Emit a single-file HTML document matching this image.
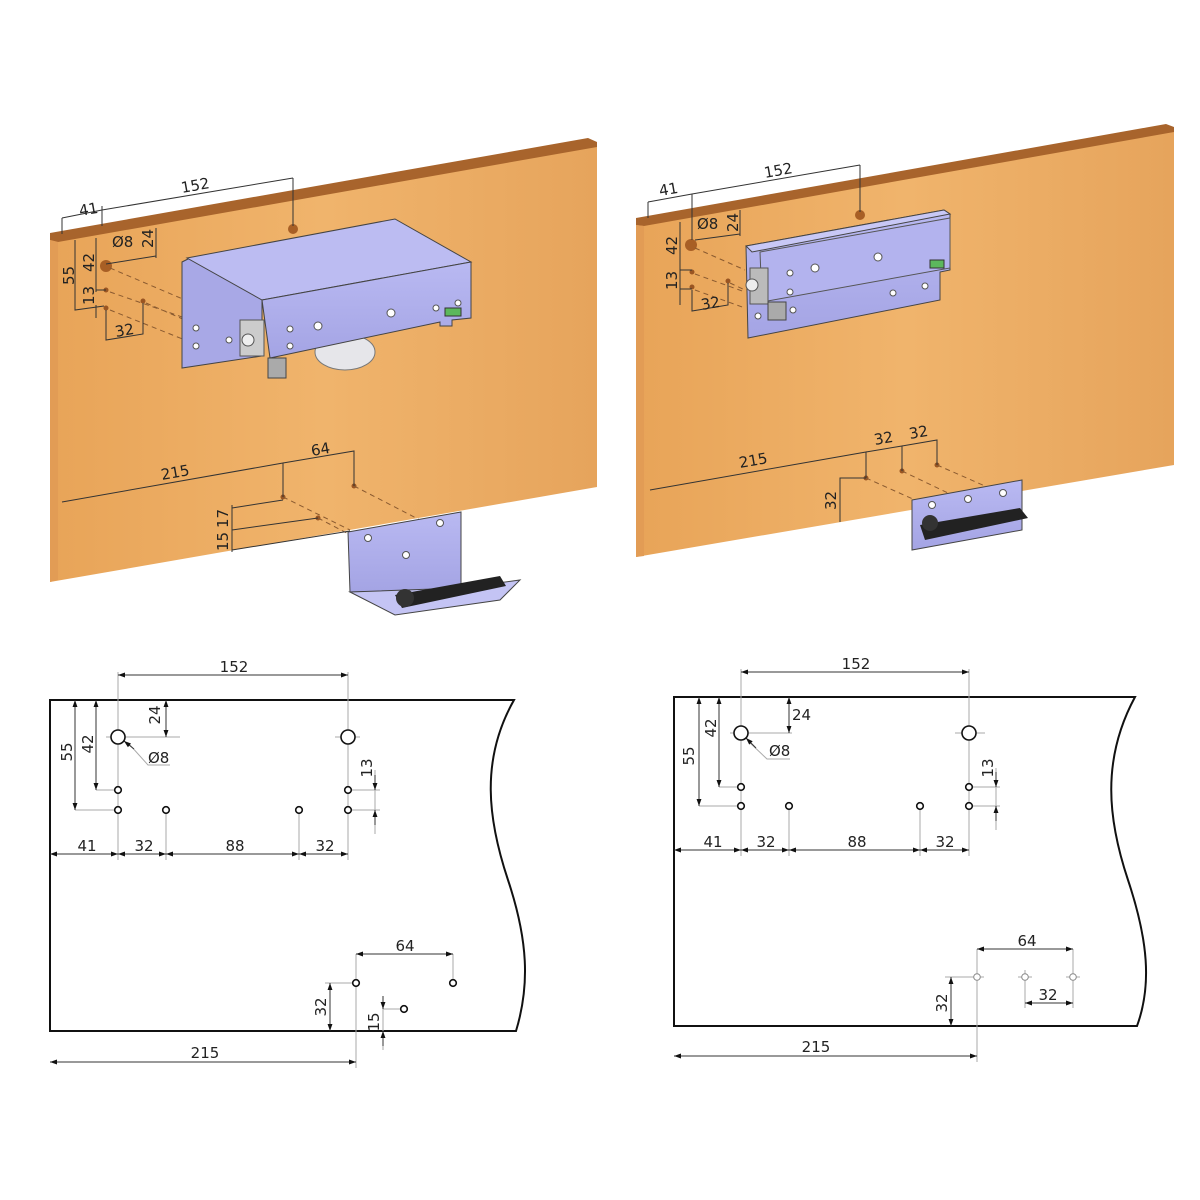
<!DOCTYPE html>
<html><head><meta charset="utf-8"><style>
html,body{margin:0;padding:0;background:#fff}
svg{display:block}
text{font-family:"DejaVu Sans","Liberation Sans",sans-serif;font-size:15px;fill:#222}
.d{stroke:#333;stroke-width:1;fill:none}
.g{stroke:#aaa;stroke-width:1;fill:none}
.dash{stroke:#8a5a30;stroke-width:1;stroke-dasharray:5,4;fill:none}
.hole{fill:#fff;stroke:#111;stroke-width:1.6}
.ol{stroke:#111;stroke-width:2;fill:none}
</style></head><body>
<svg width="1200" height="1200" viewBox="0 0 1200 1200" xmlns="http://www.w3.org/2000/svg">
<defs>
<marker id="a" viewBox="0 0 10 10" refX="10" refY="5" markerWidth="12" markerHeight="7" orient="auto-start-reverse" markerUnits="userSpaceOnUse"><path d="M0,1.5 L10,5 L0,8.5z" fill="#111"/></marker>
<linearGradient id="w" x1="0" y1="0" x2="1" y2="0">
<stop offset="0" stop-color="#e8a458"/><stop offset="0.5" stop-color="#f0b46c"/><stop offset="1" stop-color="#e6a45c"/></linearGradient>
<linearGradient id="m" x1="0" y1="0" x2="0" y2="1"><stop offset="0" stop-color="#b9b9f2"/><stop offset="1" stop-color="#a4a4e4"/></linearGradient>
</defs>

<!-- LEFT BOARD -->
<polygon points="50,236 590,141 597,144 597,487 50,582" fill="url(#w)"/>
<polygon points="50,233 588,138 597,142 597,147 58,242 50,240" fill="#a8642c"/>
<polygon points="50,240 58,242 58,580 50,582" fill="#e29c55"/>
<circle cx="293" cy="229" r="5" fill="#a85f25"/>
<circle cx="106" cy="266" r="6" fill="#a85f25"/>
<circle cx="106" cy="290" r="2.5" fill="#9a5522"/><circle cx="106" cy="308" r="2.5" fill="#9a5522"/><circle cx="143" cy="301" r="2.5" fill="#9a5522"/>
<circle cx="283" cy="497" r="2.5" fill="#9a5522"/><circle cx="354" cy="486" r="2.5" fill="#9a5522"/><circle cx="318" cy="518" r="2.5" fill="#9a5522"/>
<g class="dash"><path d="M110 268 L185 300 M110 292 L185 318 M110 310 L185 340 M146 303 L185 320"/><path d="M283 497 L350 530 M354 486 L420 520 M318 518 L360 540"/></g>
<g class="d">
<path d="M62 234 L62 218 M102 226 L102 206 M62 218 L102 210 M102 210 L293 178 M293 178 L293 226"/>
<path d="M106 264 L156 256 M156 228 L156 258 M75 240 L75 310 L104 306 M96 238 L96 292 M96 290 L106 290 M96 305 L96 318"/>
<path d="M106 310 L106 340 L143 334 L143 303"/>
<path d="M62 502 L283 463 L283 497 M283 463 L354 451 L354 486"/>
<path d="M232 552 L232 505 M232 508 L283 500 M232 530 L318 518 M232 550 L350 531"/>
</g>
<text x="80" y="216" transform="rotate(-10 80 216)">41</text>
<text x="182" y="193" transform="rotate(-10 182 193)">152</text>
<text x="112" y="247">Ø8</text>
<text x="153" y="248" transform="rotate(-90 153 248)">24</text>
<text x="74" y="285" transform="rotate(-90 74 285)">55</text>
<text x="94" y="272" transform="rotate(-90 94 272)">42</text>
<text x="94" y="305" transform="rotate(-90 94 305)">13</text>
<text x="116" y="337" transform="rotate(-10 116 337)">32</text>
<text x="162" y="480" transform="rotate(-10 162 480)">215</text>
<text x="312" y="456" transform="rotate(-10 312 456)">64</text>
<text x="228" y="528" transform="rotate(-90 228 528)">17</text>
<text x="228" y="551" transform="rotate(-90 228 551)">15</text>

<!-- left top hardware -->
<ellipse cx="345" cy="352" rx="30" ry="18" fill="#e6e6ea" stroke="#777"/>
<polygon points="182,262 190,258 250,290 262,300 262,356 182,368" fill="#a8a8e6" stroke="#444"/>
<polygon points="187,258 395,219 471,262 262,300" fill="#bcbcf2" stroke="#444"/>
<polygon points="262,300 471,262 471,318 452,320 452,326 440,326 440,322 270,358" fill="url(#m)" stroke="#444"/>
<rect x="240" y="320" width="24" height="36" fill="#ccc" stroke="#555"/>
<circle cx="248" cy="340" r="6" fill="#eee" stroke="#555"/>
<rect x="268" y="358" width="18" height="20" fill="#aaa" stroke="#444"/>
<rect x="445" y="308" width="16" height="8" fill="#5cb85c" stroke="#333"/>
<g fill="#fff" stroke="#555"><circle cx="318" cy="326" r="4"/><circle cx="290" cy="329" r="3"/><circle cx="290" cy="346" r="3"/><circle cx="391" cy="313" r="4"/><circle cx="196" cy="328" r="3"/><circle cx="196" cy="346" r="3"/><circle cx="229" cy="340" r="3"/><circle cx="436" cy="308" r="3"/><circle cx="458" cy="303" r="3"/></g>

<!-- left bottom hardware -->
<polygon points="348,532 461,512 461,590 350,592" fill="url(#m)" stroke="#444"/>
<polygon points="350,592 461,588 520,580 500,600 395,615" fill="#c4c4f4" stroke="#444"/>
<path d="M395 595 L500 576 L506 586 L402 608 Z" fill="#222"/>
<circle cx="405" cy="598" r="9" fill="#333"/>
<g fill="#fff" stroke="#555"><circle cx="368" cy="538" r="3.5"/><circle cx="440" cy="523" r="3.5"/><circle cx="406" cy="555" r="3.5"/></g>

<!-- RIGHT BOARD -->
<polygon points="636,224 1166,128 1174,130 1174,465 636,557" fill="url(#w)"/>
<polygon points="636,218 1166,124 1174,127 1174,132 644,226 636,225" fill="#a8642c"/>
<polygon points="636,225 644,226 644,556 636,557" fill="#e29c55"/>
<circle cx="860" cy="215" r="5" fill="#a85f25"/>
<circle cx="691" cy="245" r="6" fill="#a85f25"/>
<circle cx="692" cy="272" r="2.5" fill="#9a5522"/><circle cx="692" cy="287" r="2.5" fill="#9a5522"/><circle cx="728" cy="281" r="2.5" fill="#9a5522"/>
<circle cx="866" cy="478" r="2.5" fill="#9a5522"/><circle cx="902" cy="471" r="2.5" fill="#9a5522"/><circle cx="937" cy="465" r="2.5" fill="#9a5522"/>
<g class="dash"><path d="M695 248 L745 270 M695 274 L745 292 M695 290 L745 308 M730 283 L745 290 M866 478 L915 500 M902 471 L950 494 M937 465 L985 486"/></g>
<g class="d">
<path d="M648 218 L648 202 M692 210 L692 194 M648 202 L692 194 M692 194 L860 165 M860 165 L860 212 M692 210 L692 240"/>
<path d="M695 240 L740 234 M740 210 L740 236 M680 222 L680 305 M680 270 L692 270 M680 289 L692 289 M692 290 L692 311 L728 305 L728 283"/>
<path d="M650 490 L866 452 L866 478 M866 452 L902 446 L902 471 M902 446 L937 440 L937 465 M840 522 L840 478 L866 478"/>
</g>
<text x="660" y="196" transform="rotate(-10 660 196)">41</text>
<text x="765" y="178" transform="rotate(-10 765 178)">152</text>
<text x="697" y="229">Ø8</text>
<text x="738" y="232" transform="rotate(-90 738 232)">24</text>
<text x="677" y="255" transform="rotate(-90 677 255)">42</text>
<text x="677" y="290" transform="rotate(-90 677 290)">13</text>
<text x="702" y="310" transform="rotate(-10 702 310)">32</text>
<text x="740" y="468" transform="rotate(-10 740 468)">215</text>
<text x="875" y="445" transform="rotate(-10 875 445)">32</text>
<text x="910" y="439" transform="rotate(-10 910 439)">32</text>
<text x="836" y="510" transform="rotate(-90 836 510)">32</text>

<!-- right top hardware -->
<ellipse cx="835" cy="297" rx="28" ry="14" fill="#e6e6ea" stroke="#777"/>
<polygon points="746,246 944,210 950,214 950,270 940,272 940,300 748,338" fill="url(#m)" stroke="#444"/>
<polygon points="746,246 944,210 950,214 752,252" fill="#c8c8f6" stroke="#444"/>
<polygon points="760,252 950,218 950,268 762,302" fill="#b3b3ee" stroke="#555"/>
<rect x="750" y="268" width="18" height="36" fill="#bbb" stroke="#555"/>
<circle cx="752" cy="285" r="6" fill="#eee" stroke="#555"/>
<rect x="768" y="302" width="18" height="18" fill="#aaa" stroke="#444"/>
<rect x="930" y="260" width="14" height="8" fill="#5cb85c" stroke="#333"/>
<g fill="#fff" stroke="#555"><circle cx="815" cy="268" r="4"/><circle cx="878" cy="257" r="4"/><circle cx="790" cy="273" r="3"/><circle cx="790" cy="292" r="3"/><circle cx="893" cy="293" r="3"/><circle cx="925" cy="286" r="3"/><circle cx="758" cy="316" r="3"/><circle cx="793" cy="310" r="3"/></g>
<!-- right bottom hardware -->
<polygon points="912,500 1022,480 1022,530 912,550" fill="url(#m)" stroke="#444"/>
<path d="M920 525 L1020 508 L1028 518 L925 540 Z" fill="#222"/>
<circle cx="930" cy="523" r="8" fill="#333"/>
<g fill="#fff" stroke="#555"><circle cx="932" cy="505" r="3.5"/><circle cx="968" cy="499" r="3.5"/><circle cx="1003" cy="493" r="3.5"/></g>

<!-- BOTTOM LEFT DRAWING -->
<path class="ol" d="M50 1031 L50 700 L514 700 C480 760 488 820 508 880 C528 940 530 985 516 1031 Z"/>
<g class="g">
<path d="M118 672 L118 860 M348 672 L348 860 M166 810 L166 860 M299 810 L299 860"/>
<path d="M106 737 L180 737 M335 737 L360 737 M348 728 L348 746"/>
<path d="M75 810 L118 810 M96 790 L118 790 M348 790 L380 790 M348 810 L380 810 M375 770 L375 834"/>
<path d="M356 954 L356 1068 M453 954 L453 983 M325 983 L356 983 M383 1009 L404 1009 M383 996 L383 1050 M130 745 L148 765 L170 765"/>
</g>
<g class="d" marker-start="url(#a)" marker-end="url(#a)">
<line x1="118" y1="675" x2="348" y2="675"/>
<line x1="50" y1="854" x2="118" y2="854"/><line x1="118" y1="854" x2="166" y2="854"/><line x1="166" y1="854" x2="299" y2="854"/><line x1="299" y1="854" x2="348" y2="854"/>
<line x1="166" y1="700" x2="166" y2="737"/><line x1="96" y1="700" x2="96" y2="790"/><line x1="75" y1="700" x2="75" y2="810"/>
<line x1="356" y1="954" x2="453" y2="954"/><line x1="330" y1="983" x2="330" y2="1031"/>
<line x1="50" y1="1062" x2="356" y2="1062"/>
</g>
<g class="d"><line x1="375" y1="775" x2="375" y2="790" marker-end="url(#a)"/><line x1="375" y1="825" x2="375" y2="810" marker-end="url(#a)"/>
<line x1="383" y1="996" x2="383" y2="1009" marker-end="url(#a)"/><line x1="383" y1="1046" x2="383" y2="1031" marker-end="url(#a)"/>
<line x1="134" y1="749" x2="124" y2="741" marker-end="url(#a)"/></g>
<circle class="hole" cx="118" cy="737" r="7"/><circle class="hole" cx="348" cy="737" r="7"/>
<g class="hole"><circle cx="118" cy="790" r="3.3"/><circle cx="118" cy="810" r="3.3"/><circle cx="166" cy="810" r="3.3"/><circle cx="299" cy="810" r="3.3"/><circle cx="348" cy="810" r="3.3"/><circle cx="348" cy="790" r="3.3"/><circle cx="356" cy="983" r="3.3"/><circle cx="453" cy="983" r="3.3"/><circle cx="404" cy="1009" r="3.3"/></g>
<text x="234" y="672" text-anchor="middle">152</text>
<text x="160" y="715" text-anchor="middle" transform="rotate(-90 160 715)">24</text>
<text x="72" y="752" text-anchor="middle" transform="rotate(-90 72 752)">55</text>
<text x="93" y="744" text-anchor="middle" transform="rotate(-90 93 744)">42</text>
<text x="148" y="763">Ø8</text>
<text x="372" y="768" text-anchor="middle" transform="rotate(-90 372 768)">13</text>
<text x="87" y="851" text-anchor="middle">41</text><text x="144" y="851" text-anchor="middle">32</text><text x="235" y="851" text-anchor="middle">88</text><text x="325" y="851" text-anchor="middle">32</text>
<text x="405" y="951" text-anchor="middle">64</text>
<text x="326" y="1007" text-anchor="middle" transform="rotate(-90 326 1007)">32</text>
<text x="379" y="1022" text-anchor="middle" transform="rotate(-90 379 1022)">15</text>
<text x="205" y="1058" text-anchor="middle">215</text>

<!-- BOTTOM RIGHT DRAWING -->
<path class="ol" d="M674 1026 L674 697 L1135 697 C1101 760 1108 820 1128 880 C1148 940 1152 985 1137 1026 Z"/>
<g class="g">
<path d="M741 669 L741 856 M969 669 L969 856 M789 806 L789 856 M920 806 L920 856"/>
<path d="M730 733 L792 733 M955 733 L985 733 M969 722 L969 746"/>
<path d="M699 806 L741 806 M719 787 L741 787 M969 787 L1000 787 M969 806 L1000 806 M996 768 L996 830"/>
<path d="M977 949 L977 1062 M1073 949 L1073 1008 M1025 977 L1025 1008 M945 977 L977 977 M748 741 L767 759 L790 759"/>
<path d="M970 977 L984 977 M1018 977 L1032 977 M1066 977 L1080 977 M977 970 L977 984 M1025 970 L1025 984 M1073 970 L1073 984"/>
</g>
<g class="d" marker-start="url(#a)" marker-end="url(#a)">
<line x1="741" y1="672" x2="969" y2="672"/>
<line x1="674" y1="850" x2="741" y2="850"/><line x1="741" y1="850" x2="789" y2="850"/><line x1="789" y1="850" x2="920" y2="850"/><line x1="920" y1="850" x2="969" y2="850"/>
<line x1="789" y1="697" x2="789" y2="733"/><line x1="719" y1="697" x2="719" y2="787"/><line x1="699" y1="697" x2="699" y2="806"/>
<line x1="977" y1="949" x2="1073" y2="949"/><line x1="951" y1="977" x2="951" y2="1026"/><line x1="1025" y1="1003" x2="1073" y2="1003"/>
<line x1="674" y1="1056" x2="977" y2="1056"/>
</g>
<g class="d"><line x1="996" y1="772" x2="996" y2="787" marker-end="url(#a)"/><line x1="996" y1="821" x2="996" y2="806" marker-end="url(#a)"/>
<line x1="756" y1="748" x2="746" y2="738" marker-end="url(#a)"/></g>
<circle class="hole" cx="741" cy="733" r="7"/><circle class="hole" cx="969" cy="733" r="7"/>
<g class="hole"><circle cx="741" cy="787" r="3.3"/><circle cx="741" cy="806" r="3.3"/><circle cx="789" cy="806" r="3.3"/><circle cx="920" cy="806" r="3.3"/><circle cx="969" cy="806" r="3.3"/><circle cx="969" cy="787" r="3.3"/></g>
<g fill="#fff" stroke="#888"><circle cx="977" cy="977" r="3.3"/><circle cx="1025" cy="977" r="3.3"/><circle cx="1073" cy="977" r="3.3"/></g>
<text x="856" y="669" text-anchor="middle">152</text>
<text x="792" y="720">24</text>
<text x="716" y="728" text-anchor="middle" transform="rotate(-90 716 728)">42</text>
<text x="694" y="756" text-anchor="middle" transform="rotate(-90 694 756)">55</text>
<text x="769" y="756">Ø8</text>
<text x="993" y="768" text-anchor="middle" transform="rotate(-90 993 768)">13</text>
<text x="713" y="847" text-anchor="middle">41</text><text x="766" y="847" text-anchor="middle">32</text><text x="857" y="847" text-anchor="middle">88</text><text x="945" y="847" text-anchor="middle">32</text>
<text x="1027" y="946" text-anchor="middle">64</text>
<text x="947" y="1003" text-anchor="middle" transform="rotate(-90 947 1003)">32</text>
<text x="1048" y="1000" text-anchor="middle">32</text>
<text x="816" y="1052" text-anchor="middle">215</text>
</svg>
</body></html>
